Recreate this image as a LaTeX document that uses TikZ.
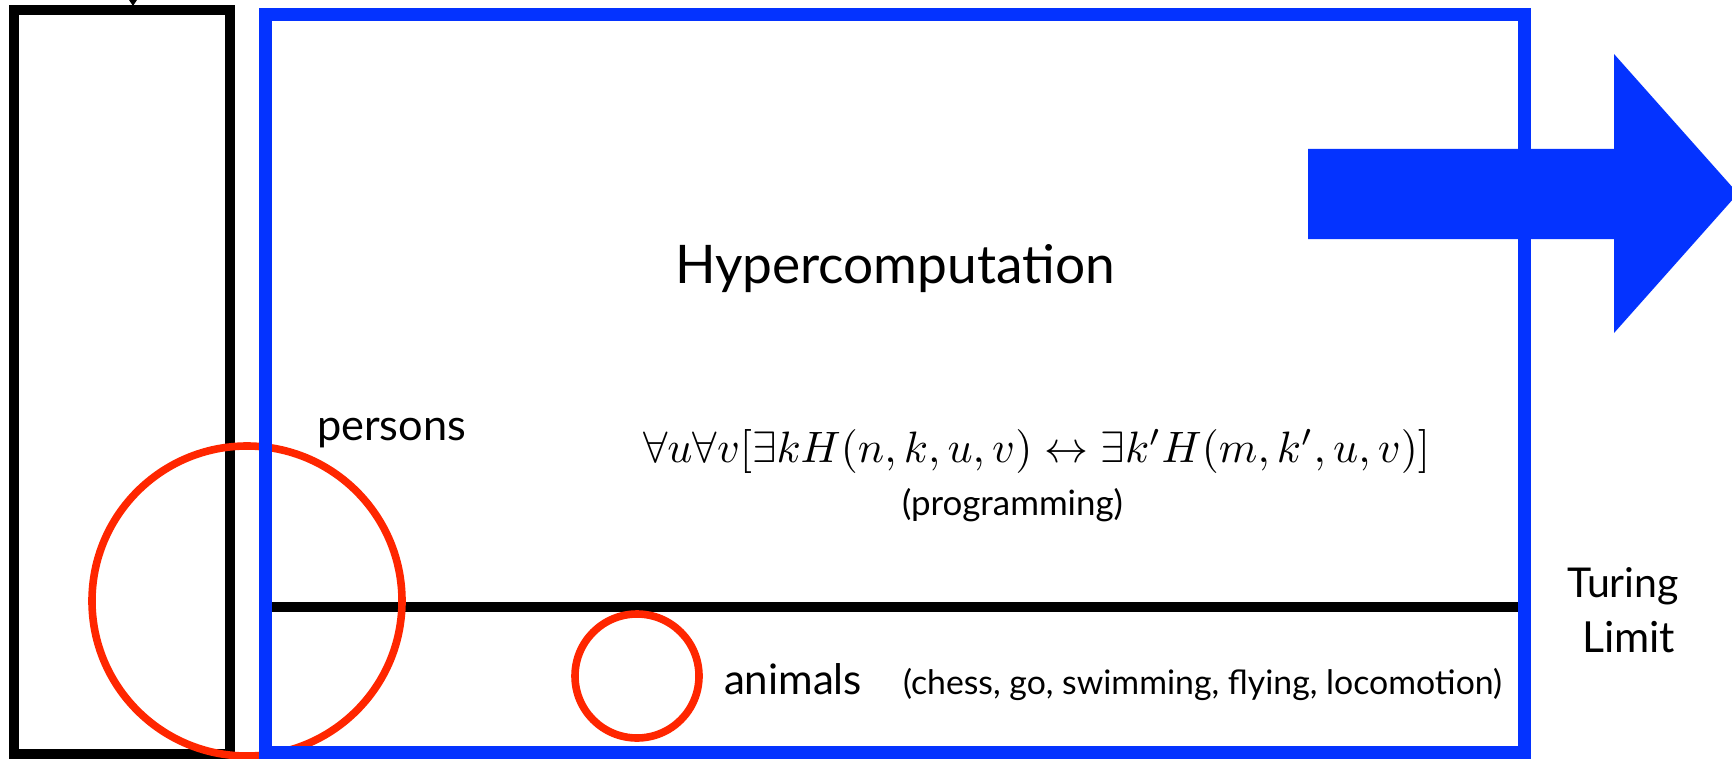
\documentclass[tikz,border=0pt]{standalone}
\usepackage[no-math]{fontspec}
\setmainfont{Lato}
\usepackage{graphicx}
\definecolor{kblue}{RGB}{4,51,255}
\definecolor{kred}{RGB}{255,38,0}
\tikzset{
  blackbox/.style={draw=black, line width=5pt},
  bluebox/.style={draw=kblue, line width=6.5pt},
  redring/.style={draw=kred, line width=3.8pt},
  divider/.style={draw=black, line width=5pt},
  lbl/.style={anchor=base west, inner sep=0pt, outer sep=0pt, text=black},
}
\begin{document}
\begin{tikzpicture}[x=0.5pt,y=-0.5pt]
\useasboundingbox (0,0) rectangle (1732,759);
% left black box
\draw[blackbox] (14,10) rectangle (230,754);
% small arrow tip at top
\fill[black] (129,0) -- (137,0) -- (133,6) -- cycle;
% divider line
\coordinate (dl) at (271,607);
\coordinate (dr) at (1518,607);
\draw[divider] (dl) -- (dr);
% red circles
\draw[redring] (247,601) circle[radius=155];
\draw[redring] (637,676) circle[radius=62];
% blue box
\draw[bluebox] (265,15) rectangle (1524,752);
% blue arrow
\fill[kblue] (1308,149) -- (1614,149) -- (1614,54) -- (1738,193.5) -- (1614,333) -- (1614,239) -- (1308,239) -- cycle;
% texts
\node[lbl] (hyper) at (675,283) {\resizebox{220pt}{!}{Hypercomputation}};
\node[lbl] (persons) at (317,440) {\resizebox{74.5pt}{!}{persons}};
\node[lbl] (formula) at (643,462) {\resizebox{393.5pt}{!}{$\forall u\forall v[\exists kH(n,k,u,v)\leftrightarrow\exists k'H(m,k',u,v)]$}};
\node[lbl] (prog) at (902,515) {\resizebox{110.5pt}{!}{(programming)}};
\node[lbl] (turing) at (1567,597) {\resizebox{56pt}{!}{Turing}};
\node[lbl] (limit) at (1582,652) {\resizebox{46.5pt}{!}{Limit}};
\node[lbl] (animals) at (724,694) {\resizebox{69pt}{!}{animals}};
\node[lbl] (tasks) at (903,694) {\resizebox{299.5pt}{!}{(chess, go, swimming, flying, locomotion)}};
\end{tikzpicture}
\end{document}
